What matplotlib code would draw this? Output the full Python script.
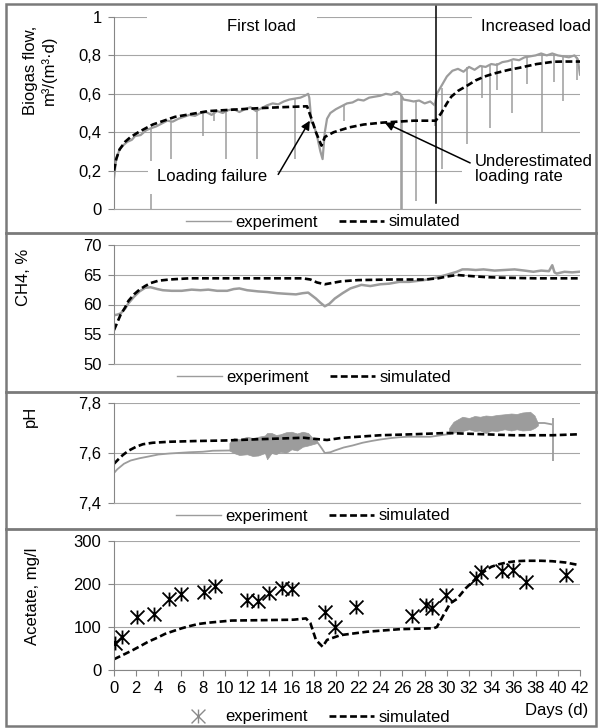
import numpy as np
import matplotlib
matplotlib.use("Agg")
import matplotlib.pyplot as plt
from matplotlib.path import Path
from matplotlib.patches import Rectangle
from matplotlib.lines import Line2D

plt.rcParams['font.family'] = ['Liberation Sans', 'DejaVu Sans']
plt.rcParams['font.size'] = 12

# ---- biogas flow, m3/(m3.d) ----
bio_exp_days = [0, 0.2, 0.5, 0.8, 1.2, 1.6, 1.9, 2.4, 2.9, 3.3, 3.8, 4.3, 4.8, 5.3, 5.8,
                6.3, 6.8, 7.3, 7.8, 8.3, 8.8, 9.3, 9.8, 10.3, 10.8, 11.3, 11.8, 12.3, 12.8,
                13.3, 13.8, 14.3, 14.8, 15.3, 15.8, 16.3, 16.8, 17.2, 17.5, 17.6, 17.8, 18.0,
                18.3, 18.6, 18.8, 19.0, 19.2, 19.5, 20.0, 20.5, 21.0, 21.5, 22.0, 22.5, 23.0,
                23.5, 24.0, 24.5, 25.0, 25.5, 25.8, 26.1, 26.6, 27.0, 27.5, 28.0, 28.5, 28.9,
                29.1, 29.5, 30.0, 30.5, 31.0, 31.5, 32.0, 32.5, 33.0, 33.5, 34.0, 34.5, 35.0,
                35.5, 36.0, 36.5, 37.0, 37.5, 38.0, 38.5, 39.0, 39.5, 40.0, 40.5, 41.0, 41.5,
                41.8, 42.0]
bio_exp_vals = [0.16, 0.26, 0.31, 0.33, 0.35, 0.36, 0.38, 0.385, 0.41, 0.42, 0.43, 0.445, 0.46,
                0.455, 0.47, 0.48, 0.49, 0.485, 0.50, 0.505, 0.49, 0.51, 0.50, 0.515, 0.52,
                0.505, 0.52, 0.53, 0.51, 0.525, 0.54, 0.55, 0.545, 0.56, 0.57, 0.575, 0.58,
                0.59, 0.60, 0.58, 0.45, 0.44, 0.38, 0.30, 0.26, 0.40, 0.47, 0.50, 0.52, 0.535,
                0.55, 0.555, 0.57, 0.565, 0.58, 0.585, 0.59, 0.60, 0.595, 0.61, 0.60, 0.57,
                0.565, 0.56, 0.565, 0.55, 0.56, 0.54, 0.60, 0.64, 0.69, 0.72, 0.73, 0.715,
                0.74, 0.725, 0.745, 0.74, 0.755, 0.75, 0.765, 0.77, 0.78, 0.775, 0.79, 0.795,
                0.80, 0.81, 0.80, 0.81, 0.80, 0.795, 0.79, 0.80, 0.78, 0.70]
# downward spikes in the measured flow: day, lowest value, value before the spike
spike_days = [3.3, 5.1, 8.0, 9.0, 10.1, 12.9, 16.3, 20.7, 25.85, 26.0, 27.2, 28.9, 29.6,
              31.8, 33.2, 33.9, 34.5, 35.9, 37.2, 38.6, 39.7, 40.5, 41.7]
spike_lows = [0.0, 0.26, 0.38, 0.46, 0.26, 0.26, 0.26, 0.46, 0.0, 0.0, 0.04, 0.43, 0.21,
              0.34, 0.58, 0.42, 0.62, 0.50, 0.65, 0.40, 0.66, 0.56, 0.67]
spike_tops = [0.42, 0.46, 0.50, 0.51, 0.51, 0.52, 0.58, 0.54, 0.60, 0.58, 0.56, 0.55, 0.63,
              0.74, 0.74, 0.75, 0.76, 0.77, 0.79, 0.81, 0.80, 0.80, 0.79]
bio_sim_days = [0, 0.2, 0.5, 1.0, 1.5, 2.2, 3.0, 3.5, 4.5, 5.5, 6.5, 7.5, 8.5, 10, 11.5, 13,
                15, 17.4, 17.8, 18.2, 18.7, 19.0, 19.8, 21.2, 22.5, 24.2, 25.6, 27, 29.0,
                29.5, 30.0, 30.4, 31.0, 31.9, 32.6, 33.4, 34.2, 34.9, 35.6, 36.5, 37.3, 38.1,
                39.0, 39.6, 40.5, 42]
bio_sim_vals = [0.20, 0.26, 0.31, 0.35, 0.375, 0.40, 0.425, 0.44, 0.46, 0.48, 0.49, 0.50,
                0.51, 0.515, 0.52, 0.525, 0.53, 0.535, 0.47, 0.40, 0.33, 0.375, 0.40, 0.425,
                0.44, 0.45, 0.455, 0.46, 0.46, 0.50, 0.55, 0.585, 0.615, 0.645, 0.67, 0.69,
                0.705, 0.715, 0.725, 0.735, 0.745, 0.755, 0.762, 0.767, 0.768, 0.768]
load_change_day = 29.05

# ---- CH4, % ----
ch4_exp_days = [0, 0.3, 0.6, 1.0, 1.3, 1.8, 2.3, 2.8, 3.3, 3.9, 4.4, 5.2, 6.1, 7.0, 7.8, 8.5,
                9.3, 10.2, 10.8, 11.3, 12.0, 13.0, 13.8, 14.7, 15.5, 16.4, 17.0, 17.5, 18.2,
                18.6, 19.0, 19.4, 19.9, 20.6, 21.3, 22.3, 23.1, 24.0, 24.8, 25.7, 26.6, 27.5,
                28.3, 29.2, 30.0, 30.9, 31.4, 31.9, 32.6, 33.3, 34.3, 35.2, 36.1, 37.0, 37.8,
                38.5, 39.2, 39.5, 39.7, 39.9, 40.6, 41.3, 41.9]
ch4_exp_vals = [58.2, 58.3, 58.5, 59.3, 60.2, 61.3, 62.2, 62.8, 62.9, 62.6, 62.4, 62.3, 62.3,
                62.5, 62.4, 62.5, 62.3, 62.3, 62.6, 62.7, 62.4, 62.2, 62.1, 61.9, 61.8, 61.7,
                61.9, 62.0, 61.0, 60.3, 59.7, 60.1, 61.0, 61.9, 62.7, 63.3, 63.1, 63.4, 63.5,
                63.8, 63.8, 64.0, 64.2, 64.6, 65.0, 65.5, 65.9, 65.9, 65.8, 65.9, 65.7, 65.8,
                65.9, 65.7, 65.5, 65.7, 65.6, 66.6, 65.4, 65.2, 65.5, 65.4, 65.5]
ch4_sim_days = [0, 0.3, 0.6, 1.0, 1.3, 1.8, 2.3, 2.8, 3.3, 4.0, 5.0, 6.8, 10, 14, 17.0, 17.7,
                18.3, 19.0, 19.6, 20.5, 22, 25, 28, 29.2, 30.0, 30.9, 32.0, 33.5, 35, 38, 42]
ch4_sim_vals = [55.7, 57.0, 58.3, 59.5, 60.6, 61.7, 62.5, 63.1, 63.6, 64.0, 64.2, 64.4, 64.4,
                64.4, 64.4, 64.2, 63.7, 63.4, 63.6, 63.9, 64.1, 64.2, 64.2, 64.4, 64.7, 64.96,
                64.8, 64.6, 64.5, 64.4, 64.4]

# ---- pH ----
ph_exp_days = [0, 0.3, 0.9, 1.5, 2.3, 3.0, 4.0, 5.0, 6.8, 8.0, 8.9, 10.4, 14.0, 18.3, 18.7,
               19.0, 19.5, 19.9, 20.7, 21.5, 22.4, 23.2, 24.0, 25.0, 25.7, 26.5, 27.5, 28.5,
               29.0, 29.6, 30.1, 34.0, 38.2, 38.8, 39.4]
ph_exp_vals = [7.52, 7.535, 7.557, 7.57, 7.579, 7.585, 7.594, 7.598, 7.603, 7.605, 7.609, 7.61,
               7.64, 7.645, 7.62, 7.60, 7.603, 7.61, 7.622, 7.63, 7.641, 7.648, 7.654, 7.66,
               7.663, 7.665, 7.665, 7.665, 7.668, 7.672, 7.675, 7.72, 7.72, 7.72, 7.715]
# dense oscillation bands in the pH record: upper / lower envelope
band1_days = [10.4, 10.8, 11.3, 12.0, 12.5, 13.0, 13.6, 13.8, 14.2, 14.6, 15.0, 15.5, 16.0,
              16.5, 17.0, 17.5, 17.9, 18.3]
band1_upper = [7.64, 7.66, 7.655, 7.665, 7.66, 7.665, 7.67, 7.68, 7.68, 7.672, 7.675, 7.683,
               7.685, 7.678, 7.685, 7.68, 7.66, 7.65]
band1_lower = [7.61, 7.60, 7.592, 7.595, 7.588, 7.59, 7.60, 7.575, 7.60, 7.595, 7.605, 7.60,
               7.615, 7.61, 7.625, 7.63, 7.635, 7.64]
band2_days = [30.2, 30.6, 31.0, 31.4, 32.0, 32.5, 33.0, 33.5, 34.0, 34.5, 35.2, 35.8, 36.3,
              36.8, 37.5, 37.9, 38.2]
band2_upper = [7.70, 7.725, 7.735, 7.745, 7.74, 7.748, 7.745, 7.75, 7.748, 7.752, 7.755, 7.758,
               7.756, 7.762, 7.765, 7.75, 7.72]
band2_lower = [7.675, 7.685, 7.69, 7.688, 7.695, 7.688, 7.69, 7.68, 7.69, 7.688, 7.695, 7.69,
               7.695, 7.69, 7.692, 7.70, 7.71]
ph_spike_day, ph_spike_low, ph_spike_high = 39.6, 7.57, 7.74
ph_sim_days = [0, 0.4, 0.8, 1.3, 2.0, 2.6, 3.5, 5.0, 7.5, 10, 13, 17.1, 18.2, 19.2, 20.6, 22,
               24, 27, 30, 32.6, 36, 39.5, 42]
ph_sim_vals = [7.557, 7.575, 7.592, 7.609, 7.625, 7.635, 7.641, 7.645, 7.648, 7.65, 7.655,
               7.661, 7.656, 7.652, 7.661, 7.665, 7.671, 7.675, 7.68, 7.676, 7.671, 7.671, 7.675]

# ---- acetate, mg/l ----
ac_exp_days = [0.06, 0.7, 2.1, 3.6, 5.0, 6.0, 8.1, 9.1, 12.0, 13.0, 14.0, 15.1, 16.0, 19.0,
               19.9, 21.8, 26.9, 28.1, 28.7, 29.9, 32.6, 33.1, 35.0, 36.0, 37.1, 40.7]
ac_exp_vals = [63, 76, 124, 130, 165, 176, 181, 196, 163, 161, 180, 191, 188, 135, 100, 147,
               126, 152, 145, 175, 213, 228, 230, 232, 205, 222]
ac_sim_days = [0, 0.8, 1.6, 2.4, 3.1, 3.9, 4.6, 5.4, 6.1, 6.8, 7.6, 8.5, 10.6, 13.6, 16.2,
               17.3, 17.7, 18.2, 18.8, 19.2, 20.4, 22.8, 25.8, 28.8, 29.1, 29.7, 30.3, 30.9,
               31.7, 32.6, 33.3, 34.0, 34.7, 35.4, 36.2, 37.1, 38.5, 39.5, 40.7, 41.9]
ac_sim_vals = [25, 35, 45, 56, 66, 75, 84, 91, 97, 102, 107, 110, 115, 116, 117, 120, 109, 70,
               54, 70, 81, 89, 95, 97, 100, 128, 155, 165, 190, 212, 228, 240, 246, 250, 253,
               254, 254, 253, 250, 244]

day_ticks = list(range(0, 43, 2))
bio_ticks = [0, 0.2, 0.4, 0.6, 0.8, 1]
bio_labels = ['0', '0,2', '0,4', '0,6', '0,8', '1']
ch4_ticks = [50, 55, 60, 65, 70]
ph_ticks = [7.4, 7.6, 7.8]
ph_labels = ['7,4', '7,6', '7,8']
ac_ticks = [0, 100, 200, 300]

EXP = '#9c9c9c'
GRID = '#a6a6a6'
AXIS = '#868686'
BORDER = '#7a7a7a'
SIM = dict(color='black', lw=1.9, linestyle=(0, (2.6, 1.3)))

W, H = 598, 728
fig = plt.figure(figsize=(W / 100, H / 100), dpi=100)


def rect(left, top, right, bottom):
    return [left / W, 1 - bottom / H, (right - left) / W, (bottom - top) / H]


def style(ax, ticks, labels, lo, hi):
    ax.set_xlim(0, 42)
    ax.set_ylim(lo, hi)
    ax.set_yticks(ticks)
    ax.set_yticklabels(labels)
    ax.yaxis.grid(True, color=GRID, lw=0.8)
    ax.set_axisbelow(True)
    ax.spines['top'].set_visible(False)
    ax.spines['right'].set_visible(False)
    ax.spines['left'].set_color(AXIS)
    ax.spines['bottom'].set_color(GRID)
    ax.spines['left'].set_linewidth(0.8)
    ax.spines['bottom'].set_linewidth(0.8)
    ax.tick_params(axis='y', length=4, color=AXIS, width=0.8, pad=5, labelsize=12)
    ax.tick_params(axis='x', bottom=False, labelbottom=False)
    ax.patch.set_alpha(0)


def legend(ax, handles, cx, cy):
    ax.legend(handles, ['experiment', 'simulated'], loc='center', ncol=2, frameon=False,
              bbox_to_anchor=(cx / W, 1 - cy / H), bbox_transform=fig.transFigure,
              handlelength=2.7, handletextpad=0.25, columnspacing=1.3, fontsize=12,
              borderpad=0, borderaxespad=0)


# panel 1: biogas
ax1 = fig.add_axes(rect(114, 17, 580, 209))
style(ax1, bio_ticks, bio_labels, 0, 1)
ax1.plot(bio_exp_days, bio_exp_vals, color=EXP, lw=1.6, zorder=2)
ax1.vlines(spike_days, spike_lows, spike_tops, color=EXP, lw=1.1, zorder=2)
s1, = ax1.plot(bio_sim_days, bio_sim_vals, zorder=3, **SIM)
ax1.axvline(load_change_day, ymin=0.03, ymax=1.06, color='black', lw=1.1, clip_on=False, zorder=3)
# white text boxes as in the original chart
for x0, x1, y0, y1 in [(3.0, 18.3, 0.90, 1.03), (32.3, 42.5, 0.90, 1.03),
                       (3.1, 14.7, 0.08, 0.25), (31.4, 42.5, 0.12, 0.30)]:
    ax1.add_patch(Rectangle((x0, y0), x1 - x0, y1 - y0, facecolor='white', edgecolor='none',
                            clip_on=False, zorder=4))
ax1.text(13.3, 0.95, 'First load', ha='center', va='center', zorder=5)
ax1.text(38.0, 0.95, 'Increased load', ha='center', va='center', zorder=5)
ax1.text(8.8, 0.17, 'Loading failure', ha='center', va='center', zorder=5)
ax1.text(32.5, 0.21, 'Underestimated\nloading rate', ha='left', va='center', linespacing=1.0,
         zorder=5)
ax1.annotate('', xy=(17.65, 0.46), xytext=(14.8, 0.18), zorder=6,
             arrowprops=dict(arrowstyle='-|>', color='black', lw=1.1, mutation_scale=13,
                             shrinkA=0, shrinkB=0))
ax1.annotate('', xy=(24.4, 0.45), xytext=(32.1, 0.24), zorder=6,
             arrowprops=dict(arrowstyle='-|>', color='black', lw=1.1, mutation_scale=13,
                             shrinkA=0, shrinkB=0))
legend(ax1, [Line2D([], [], color=EXP, lw=1), s1], 323, 222)

# panel 2: CH4
ax2 = fig.add_axes(rect(114, 245, 580, 364))
style(ax2, ch4_ticks, [str(t) for t in ch4_ticks], 50, 70)
ax2.plot(ch4_exp_days, ch4_exp_vals, color=EXP, lw=1.8)
s2, = ax2.plot(ch4_sim_days, ch4_sim_vals, **SIM)
legend(ax2, [Line2D([], [], color=EXP, lw=1), s2], 314, 377)

# panel 3: pH
ax3 = fig.add_axes(rect(114, 403, 580, 503))
style(ax3, ph_ticks, ph_labels, 7.4, 7.8)
ax3.plot(ph_exp_days, ph_exp_vals, color=EXP, lw=1.3)
ax3.fill_between(band1_days, band1_lower, band1_upper, color=EXP, lw=0.5)
ax3.fill_between(band2_days, band2_lower, band2_upper, color=EXP, lw=0.5)
ax3.vlines([ph_spike_day], [ph_spike_low], [ph_spike_high], color=EXP, lw=1.3)
s3, = ax3.plot(ph_sim_days, ph_sim_vals, **SIM)
legend(ax3, [Line2D([], [], color=EXP, lw=1), s3], 313, 516)

# panel 4: acetate
ax4 = fig.add_axes(rect(114, 541, 580, 670))
style(ax4, ac_ticks, [str(t) for t in ac_ticks], 0, 300)
ax4.spines['bottom'].set_color(AXIS)
ax4.set_xticks(day_ticks)
ax4.tick_params(axis='x', bottom=True, labelbottom=True, length=4, width=0.8, color=AXIS,
                pad=4, labelsize=12)
star = Path([(0, -1), (0, 1), (-1, -1), (1, 1), (-1, 1), (1, -1)],
            [Path.MOVETO, Path.LINETO] * 3)
ax4.plot(ac_exp_days, ac_exp_vals, linestyle='none', marker=star, ms=10, mew=1.3,
         color='black', zorder=4)
s4, = ax4.plot(ac_sim_days, ac_sim_vals, **SIM)
legend(ax4, [Line2D([], [], linestyle='none', marker=star, ms=10, mew=1.0, color='#8a8a8a'), s4],
       313, 717)

# y-axis titles and x title
fig.text(40 / W, 1 - 70 / H, 'Biogas flow,\nm³/(m³·d)', rotation=90, ha='center', va='center',
         multialignment='center')
fig.text(23 / W, 1 - 277 / H, 'CH4, %', rotation=90, ha='center', va='center')
fig.text(30 / W, 1 - 416 / H, 'pH', rotation=90, ha='center', va='center')
fig.text(32 / W, 1 - 596 / H, 'Acetate, mg/l', rotation=90, ha='center', va='center')
fig.text(557 / W, 1 - 710 / H, 'Days (d)', ha='center', va='center')

# chart borders
fig.add_artist(Rectangle((6 / W, 1 - 726 / H), 590 / W, 722 / H, transform=fig.transFigure,
                         fill=False, edgecolor=BORDER, lw=1.8))
for ysep in [233, 392, 529]:
    fig.add_artist(Line2D([6 / W, 596 / W], [1 - ysep / H] * 2, transform=fig.transFigure,
                          color=BORDER, lw=2.0))

fig.savefig('out.png', dpi=100)
